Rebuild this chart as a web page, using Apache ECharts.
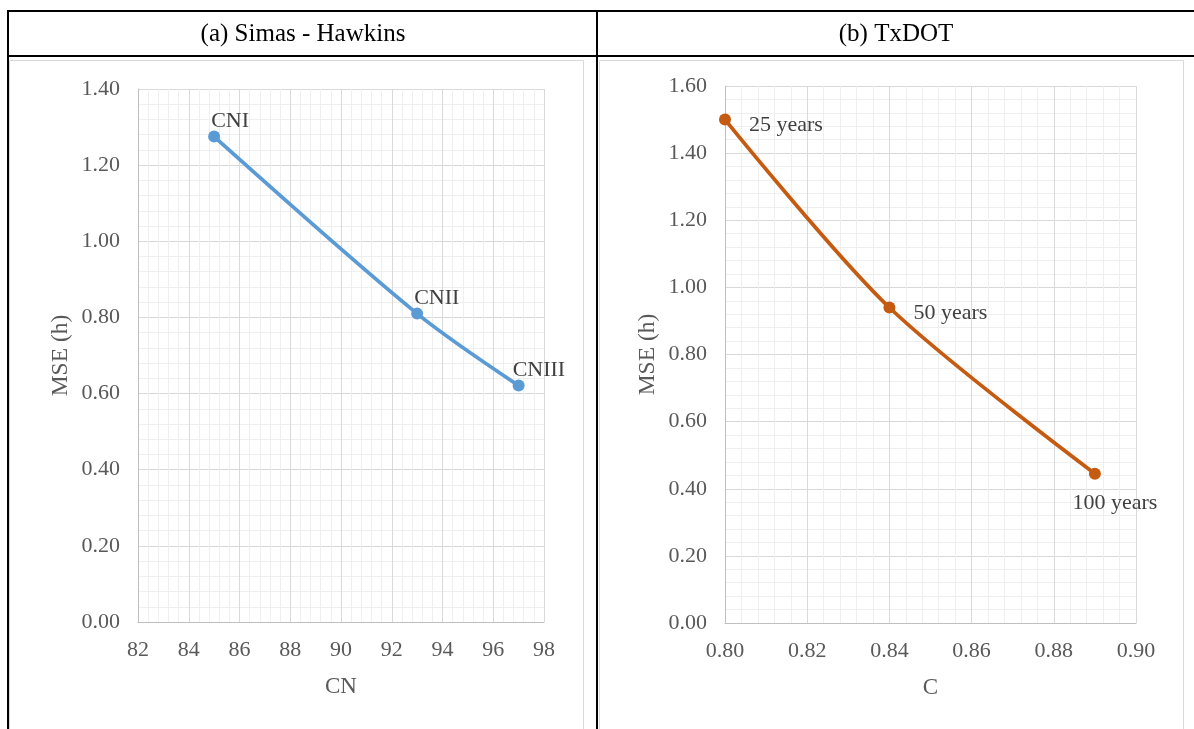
<!DOCTYPE html>
<html>
<head>
<meta charset="utf-8">
<script src="https://cdn.jsdelivr.net/npm/echarts@6/dist/echarts.min.js"></script>
<style>
  html, body { margin: 0; padding: 0; background: #fff; }
  #main { width: 1194px; height: 729px; }
</style>
</head>
<body>
<div id="main"></div>
<script>
// ---- data ----
var cnValues = [85, 93, 97];
var cnMse = [1.275, 0.81, 0.621];
var cnNames = ["CNI", "CNII", "CNIII"];

var cValues = [0.80, 0.84, 0.89];
var cMse = [1.50, 0.94, 0.445];
var cNames = ["25 years", "50 years", "100 years"];

var leftTicks = { min: 82, max: 98, interval: 2 };
var leftYTicks = { min: 0, max: 1.4, interval: 0.2 };
var rightTicks = { min: 0.80, max: 0.90, interval: 0.02 };
var rightYTicks = { min: 0, max: 1.6, interval: 0.2 };

// ---- styles ----
var FONT = '"Liberation Serif", "Times New Roman", serif';
var TICK_COLOR = "#595959";
var MAJOR = "#d9d9d9";
var MINOR = "#efefef";
var BLUE = "#5b9bd5";
var ORANGE = "#c55a11";

// label placement per point (kept apart from the values)
var cnLabelPos = [
	{ position: "top", align: "left", distance: 0, offset: [-3, 2] },
	{ position: "top", align: "left", distance: 0, offset: [-3, 2] },
	{ position: "top", align: "left", distance: 0, offset: [-6, 2] }
];
var cLabelPos = [
	{ position: "right", distance: 18, offset: [0, 6] },
	{ position: "right", distance: 18, offset: [0, 6] },
	{ position: "bottom", distance: 13, offset: [20, 0] }
];

var makeData = function(xs, ys, names, pos){
	var list = [];
	for (var i = 0; i < xs.length; i++){
		var label = { show: true, formatter: names[i] };
		for (var key in pos[i]){
			label[key] = pos[i][key];
		}
		list.push({ value: [xs[i], ys[i]], label: label });
	}
	return list;
}

var xAxisFor = function(idx, ticks, name, digits){
	return {
		type: "value",
		gridIndex: idx,
		min: ticks.min,
		max: ticks.max,
		interval: ticks.interval,
		name: name,
		nameLocation: "middle",
		nameGap: 53,
		nameTextStyle: { fontFamily: FONT, fontSize: 23, color: TICK_COLOR },
		axisLine: { show: true, lineStyle: { color: "#bfbfbf", width: 1 } },
		axisTick: { show: false },
		axisLabel: {
			fontFamily: FONT, fontSize: 22, color: TICK_COLOR, margin: 17,
			formatter: function(v){ return v.toFixed(digits); }
		},
		splitLine: { show: true, lineStyle: { color: MAJOR, width: 1 } },
		minorTick: { show: false, splitNumber: 5 },
		minorSplitLine: { show: true, lineStyle: { color: MINOR, width: 1 } }
	}
}

var yAxisFor = function(idx, ticks){
	return {
		type: "value",
		gridIndex: idx,
		min: ticks.min,
		max: ticks.max,
		interval: ticks.interval,
		name: "MSE (h)",
		nameLocation: "middle",
		nameGap: 65,
		nameTextStyle: { fontFamily: FONT, fontSize: 23.5, color: TICK_COLOR },
		axisLine: { show: true, lineStyle: { color: "#bfbfbf", width: 1 } },
		axisTick: { show: false },
		axisLabel: {
			fontFamily: FONT, fontSize: 22, color: TICK_COLOR, margin: 18,
			formatter: function(v){ return v.toFixed(2); }
		},
		splitLine: { show: true, lineStyle: { color: MAJOR, width: 1 } },
		minorTick: { show: false, splitNumber: 5 },
		minorSplitLine: { show: true, lineStyle: { color: MINOR, width: 1 } }
	}
}

var seriesFor = function(idx, data, color){
	return {
		type: "line",
		xAxisIndex: idx,
		yAxisIndex: idx,
		data: data,
		smooth: 0.3,
		symbol: "circle",
		symbolSize: 12,
		lineStyle: { color: color, width: 3.75 },
		itemStyle: { color: color },
		label: { fontFamily: FONT, fontSize: 22, color: "#404040" },
		animation: false
	}
}

// table frame and panel borders
var frame = [
	{ type: "rect", shape: { x: 9.5, y: 60.5, width: 574, height: 700 }, style: { fill: null, stroke: "#d9d9d9", lineWidth: 1 } },
	{ type: "rect", shape: { x: 599.5, y: 60.5, width: 584, height: 700 }, style: { fill: null, stroke: "#d9d9d9", lineWidth: 1 } },
	{ type: "line", shape: { x1: 8, y1: 11, x2: 1194, y2: 11 }, style: { stroke: "#000", lineWidth: 2 } },
	{ type: "line", shape: { x1: 8, y1: 56, x2: 1194, y2: 56 }, style: { stroke: "#000", lineWidth: 2 } },
	{ type: "line", shape: { x1: 8, y1: 10, x2: 8, y2: 729 }, style: { stroke: "#000", lineWidth: 2 } },
	{ type: "line", shape: { x1: 597, y1: 10, x2: 597, y2: 729 }, style: { stroke: "#000", lineWidth: 2 } },
	{ type: "text", x: 303, y: 34, style: { text: "(a) Simas - Hawkins", font: "25px " + FONT, fill: "#000", textAlign: "center", textVerticalAlign: "middle" } },
	{ type: "text", x: 896, y: 34, style: { text: "(b) TxDOT", font: "25px " + FONT, fill: "#000", textAlign: "center", textVerticalAlign: "middle" } }
];

var chart = echarts.init(document.getElementById("main"));
chart.setOption({
	backgroundColor: "#fff",
	animation: false,
	graphic: frame,
	grid: [
		{ left: 138, top: 89, width: 406, height: 533 },
		{ left: 725, top: 86, width: 411, height: 537 }
	],
	xAxis: [
		xAxisFor(0, leftTicks, "CN", 0),
		xAxisFor(1, rightTicks, "C", 2)
	],
	yAxis: [
		yAxisFor(0, leftYTicks),
		yAxisFor(1, rightYTicks)
	],
	series: [
		seriesFor(0, makeData(cnValues, cnMse, cnNames, cnLabelPos), BLUE),
		seriesFor(1, makeData(cValues, cMse, cNames, cLabelPos), ORANGE)
	]
});
</script>
</body>
</html>
